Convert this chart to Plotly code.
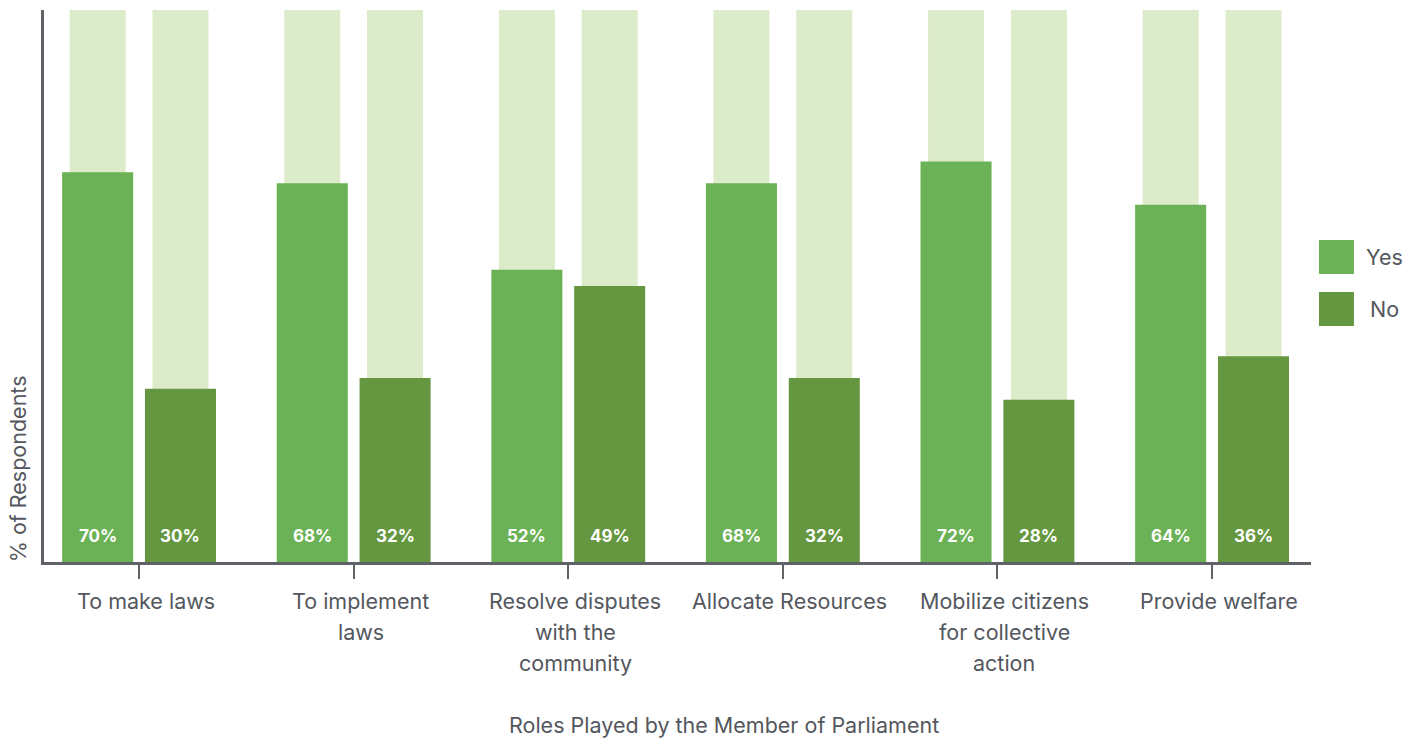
import plotly.graph_objects as go

# Survey results: share of respondents saying Yes / No for each MP role
categories = [
    "To make laws",
    "To implement<br>laws",
    "Resolve disputes<br>with the<br>community",
    "Allocate Resources",
    "Mobilize citizens<br>for collective<br>action",
    "Provide welfare",
]
yes_values = [70, 68, 52, 68, 72, 64]
no_values = [30, 32, 49, 32, 28, 36]
full_scale = [100] * len(categories)

# Styling
YES_COLOR = "#6bb155"
NO_COLOR = "#659740"
TRACK_COLOR = "#dcebc9"
TEXT_COLOR = "#54575d"
AXIS_COLOR = "#5f6267"
FONT = "Inter"
TEXT_SIZE = 21.5
AXIS_FLOOR = -2

BAR_W = 0.331
TRACK_W = 0.261
SHIFT = 0.193

xs = list(range(len(categories)))

fig = go.Figure()

# Light background "track" bars behind each data bar
for sign in (-1, 1):
    fig.add_trace(go.Bar(
        x=xs, y=[v - AXIS_FLOOR for v in full_scale], base=AXIS_FLOOR,
        width=TRACK_W, offset=sign * SHIFT - TRACK_W / 2,
        marker=dict(color=TRACK_COLOR, line=dict(width=0)),
        hoverinfo="skip", showlegend=False,
    ))

# Data bars
for vals, sign, color, name in ((yes_values, -1, YES_COLOR, "Yes"),
                                (no_values, 1, NO_COLOR, "No")):
    fig.add_trace(go.Bar(
        x=xs, y=[v - AXIS_FLOOR for v in vals], base=AXIS_FLOOR,
        width=BAR_W, offset=sign * SHIFT - BAR_W / 2,
        marker=dict(color=color, line=dict(width=0)),
        name=name, showlegend=False,
        customdata=vals, hovertemplate="%{customdata}%<extra>" + name + "</extra>",
    ))

annotations = []
# Value labels near the base of every bar
for vals, sign in ((yes_values, -1), (no_values, 1)):
    for i, v in enumerate(vals):
        annotations.append(dict(
            x=i + sign * SHIFT, y=AXIS_FLOOR, xref="x", yref="y",
            text=f"<b>{v}%</b>", showarrow=False, yanchor="middle",
            yshift=26, font=dict(family=FONT, size=17, color="white"),
        ))

# Category labels, one line at a time for wider line spacing
for i, cat in enumerate(categories):
    for j, line in enumerate(cat.split("<br>")):
        annotations.append(dict(
            x=i, y=0, xref="x", yref="paper", text=line, showarrow=False,
            xanchor="center", yanchor="middle", xshift=7, yshift=-39 - 31 * j,
            font=dict(family=FONT, size=TEXT_SIZE, color=TEXT_COLOR),
        ))

# Axis titles
annotations.append(dict(
    x=0.537, y=0, xref="paper", yref="paper", yshift=-163,
    text="Roles Played by the Member of Parliament", showarrow=False,
    xanchor="center", yanchor="middle",
    font=dict(family=FONT, size=TEXT_SIZE, color=TEXT_COLOR),
))
annotations.append(dict(
    x=0, y=0.168, xref="paper", yref="paper", xshift=-26,
    text="% of Respondents", showarrow=False, textangle=-90,
    xanchor="center", yanchor="middle",
    font=dict(family=FONT, size=TEXT_SIZE, color=TEXT_COLOR),
))

# Legend drawn with swatches and labels
shapes = []
for name, color, y0, y1, ty in (("Yes", YES_COLOR, 0.5217, 0.5833, 0.5525),
                                ("No", NO_COLOR, 0.4275, 0.4891, 0.4583)):
    shapes.append(dict(type="rect", xref="paper", yref="paper",
                       x0=1.0063, x1=1.0339, y0=y0, y1=y1,
                       fillcolor=color, line=dict(width=0)))
    annotations.append(dict(
        x=1.058, y=ty, xref="paper", yref="paper", text=name, showarrow=False,
        xanchor="center", yanchor="middle",
        font=dict(family=FONT, size=TEXT_SIZE, color=TEXT_COLOR),
    ))

fig.update_layout(
    width=1418, height=742,
    margin=dict(l=44, r=107, t=10, b=180),
    barmode="overlay",
    plot_bgcolor="white", paper_bgcolor="white",
    font=dict(family=FONT, color=TEXT_COLOR),
    annotations=annotations, shapes=shapes,
    showlegend=False,
)
fig.update_xaxes(
    range=[-0.443, 5.461], tickvals=xs, showticklabels=False,
    ticks="outside", ticklen=14, tickwidth=2, tickcolor=AXIS_COLOR,
    showline=True, linecolor=AXIS_COLOR, linewidth=3,
    showgrid=False, zeroline=False, fixedrange=True,
)
fig.update_yaxes(
    range=[AXIS_FLOOR, 100], showticklabels=False, ticks="",
    showline=True, linecolor=AXIS_COLOR, linewidth=3,
    showgrid=False, zeroline=False, fixedrange=True,
)

fig.write_html("out.html")
